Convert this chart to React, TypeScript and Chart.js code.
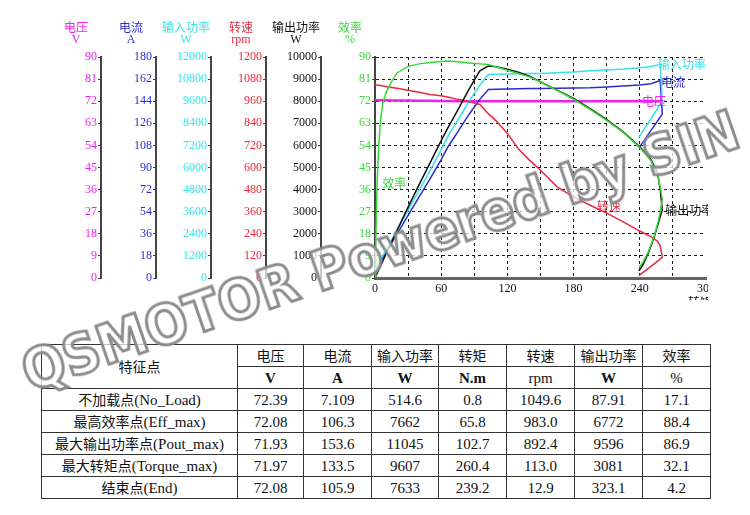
import React, { useEffect, useRef } from 'react';
import { Chart, registerables } from 'chart.js';

Chart.register(...registerables);

// operating points along the test run (torque rises to max, then falls back to the end point)
const torque = [0, 0.8, 2, 3.5, 5, 7, 10, 15, 20, 30, 40, 50, 60, 65.8, 75, 85, 95, 102.7, 110, 120, 130, 140, 150, 165, 180, 195, 210, 225, 240, 250, 256, 258.5, 260.4, 257, 253, 248, 243, 239.2];
const voltage = [72.4, 72.39, 72.38, 72.38, 72.37, 72.36, 72.35, 72.32, 72.3, 72.25, 72.2, 72.15, 72.1, 72.08, 72.03, 71.98, 71.95, 71.93, 71.93, 71.93, 71.94, 71.94, 71.94, 71.95, 71.95, 71.95, 71.96, 71.96, 71.96, 71.96, 71.96, 71.96, 71.97, 71.99, 72.01, 72.04, 72.06, 72.08];
const current = [0, 7.109, 9.5, 11.5, 13.5, 16.5, 21, 28.5, 36, 51, 66, 81, 96.5, 106.3, 119, 133, 145.5, 153.6, 153.8, 154, 154.2, 154.3, 154.4, 154.5, 154.7, 154.9, 155.5, 156.3, 157.2, 158.2, 160, 160.8, 133.5, 129.1, 123.9, 117.4, 110.9, 105.9];
const inputPower = [0, 514.6, 688, 832, 977, 1194, 1519, 2061, 2603, 3685, 4765, 5844, 6958, 7662, 8572, 9573, 10469, 11045, 11063, 11080, 11095, 11105, 11110, 11140, 11180, 11260, 11300, 11350, 11420, 11490, 11560, 11600, 9607, 9290, 8918, 8452, 7987, 7633];
const speed = [1052, 1049.6, 1048, 1046.5, 1045, 1043, 1040, 1035, 1030, 1020, 1009, 997, 989, 983, 970, 958, 942, 892.4, 852, 785, 700, 640, 585, 495, 440, 395, 352, 305, 255, 225, 200, 175, 113, 96, 77, 54, 31, 12.9];
const outputPower = [0, 87.91, 219, 383, 547, 765, 1089, 1626, 2157, 3204, 4226, 5220, 6214, 6772, 7600, 8527, 9370, 9596, 9555, 9444, 9310, 9130, 8877, 8500, 8122, 7666, 7166, 6611, 5933, 5366, 4777, 4000, 3081, 2520, 1850, 1170, 610, 323.1];
const efficiency = [0, 17.1, 40, 55, 64, 71, 75.5, 80, 83.5, 86.2, 87.2, 87.8, 88.2, 88.4, 88.1, 87.6, 87.2, 86.9, 85.9, 84.6, 83.3, 81.9, 79.7, 76.4, 72.8, 68.7, 64.2, 59.3, 53.1, 47.8, 42.2, 37, 32.1, 23.5, 17, 11, 6.5, 4.2];

// axis ranges (min 0)
const voltageMax = 90;
const currentMax = 180;
const inputMax = 12000;
const speedMax = 1200;
const outputMax = 10000;
const effMax = 90;
const torqueMax = 300;

// table
const headNames = ['电压', '电流', '输入功率', '转矩', '转速', '输出功率', '效率'];
const headUnits = ['V', 'A', 'W', 'N.m', 'rpm', 'W', '%'];
const rowNameZh = ['不加载点', '最高效率点', '最大输出功率点', '最大转矩点', '结束点'];
const rowNameEn = ['(No_Load)', '(Eff_max)', '(Pout_max)', '(Torque_max)', '(End)'];
const rowVoltage = ['72.39', '72.08', '71.93', '71.97', '72.08'];
const rowCurrent = ['7.109', '106.3', '153.6', '133.5', '105.9'];
const rowInput = ['514.6', '7662', '11045', '9607', '7633'];
const rowTorque = ['0.8', '65.8', '102.7', '260.4', '239.2'];
const rowSpeed = ['1049.6', '983.0', '892.4', '113.0', '12.9'];
const rowOutput = ['87.91', '6772', '9596', '3081', '323.1'];
const rowEff = ['17.1', '88.4', '86.9', '32.1', '4.2'];

const MAGENTA = '#ee22ee';
const BLUE = '#2b2bd2';
const CYAN = '#33e3ea';
const RED = '#e8293f';
const BLACK = '#111111';
const GREEN = '#35d935';

const SERIF = "'Liberation Serif', 'Noto Sans CJK SC', serif";
const CJK = "'Noto Sans CJK SC', sans-serif";

const axisTitles = [
  { id: 'yV', name: '电压', unit: 'V', color: MAGENTA },
  { id: 'yI', name: '电流', unit: 'A', color: BLUE },
  { id: 'yPin', name: '输入功率', unit: 'W', color: CYAN },
  { id: 'yN', name: '转速', unit: 'rpm', color: RED },
  { id: 'yPout', name: '输出功率', unit: 'W', color: BLACK },
  { id: 'yE', name: '效率', unit: '%', color: GREEN },
];

const curveLabels = [
  { text: '输入功率', axis: 'yPin', x: 256.6, y: 11600, color: CYAN },
  { text: '电流', axis: 'yI', x: 259.2, y: 158.9, color: BLUE },
  { text: '电压', axis: 'yV', x: 242, y: 72, color: MAGENTA },
  { text: '转速', axis: 'yN', x: 201, y: 387, color: RED },
  { text: '输出功率', axis: 'yPout', x: 263, y: 3078, color: BLACK },
  { text: '效率', axis: 'yE', x: 6.5, y: 38.7, color: GREEN },
];

const pts = (vals: number[]) => torque.map((t, i) => ({ x: t, y: vals[i] }));

const yAxis = (max: number, color: string, weight: number, width: number, grid: boolean) => ({
  type: 'linear' as const,
  position: 'left' as const,
  min: 0,
  max,
  weight,
  ticks: {
    stepSize: max / 10,
    color,
    font: { size: 12, family: SERIF },
    padding: 1,
    autoSkip: false,
    callback: (v: any) => String(v),
  },
  grid: {
    drawOnChartArea: grid,
    drawTicks: true,
    tickLength: 3,
    color: grid ? '#1a1a1a' : 'rgba(0,0,0,0)',
    tickColor: '#444',
    lineWidth: 1,
  },
  border: { display: true, color: '#444', width: 2, dash: grid ? [3, 3] : undefined },
  afterFit: (s: any) => {
    s.width = width;
  },
});

const textPlugin = {
  id: 'texts',
  afterDraw(chart: any) {
    const ctx = chart.ctx;
    ctx.save();
    ctx.textBaseline = 'middle';
    axisTitles.forEach((t) => {
      const s = chart.scales[t.id];
      const cx = s.right - 25;
      ctx.fillStyle = t.color;
      ctx.textAlign = 'center';
      ctx.font = '12px ' + CJK;
      ctx.fillText(t.name, cx, 27);
      ctx.font = '12px ' + SERIF;
      ctx.fillText(t.unit, cx, 40);
    });
    ctx.font = '12px ' + CJK;
    ctx.textAlign = 'left';
    curveLabels.forEach((l) => {
      const x = chart.scales.x.getPixelForValue(l.x);
      const y = chart.scales[l.axis].getPixelForValue(l.y);
      ctx.fillStyle = l.color;
      ctx.fillText(l.text, x, y);
    });
    ctx.fillStyle = '#111';
    ctx.fillText('转矩(N.m)', 688, 302);
    ctx.restore();
  },
};

const MotorChart: React.FC = () => {
  const canvasRef = useRef<HTMLCanvasElement>(null);
  const chartRef = useRef<Chart | null>(null);

  useEffect(() => {
    if (!canvasRef.current) return;
    const line = (label: string, data: number[], color: string, yAxisID: string, width = 1.5) => ({
      label,
      data: pts(data),
      yAxisID,
      borderColor: color,
      backgroundColor: color,
      borderWidth: width,
      pointRadius: 0,
      showLine: true,
      tension: 0,
      fill: false,
    });
    chartRef.current = new Chart(canvasRef.current, {
      type: 'scatter',
      data: {
        datasets: [
          line('效率', efficiency, GREEN, 'yE'),
          line('输出功率', outputPower, BLACK, 'yPout'),
          line('转速', speed, RED, 'yN'),
          line('输入功率', inputPower, CYAN, 'yPin'),
          line('电流', current, BLUE, 'yI'),
          line('电压', voltage, MAGENTA, 'yV', 2.5),
        ] as any,
      },
      options: {
        responsive: false,
        animation: false,
        layout: { padding: { left: 46, right: 44, top: 57, bottom: 0 } },
        plugins: { legend: { display: false }, tooltip: { enabled: false } },
        scales: {
          x: {
            type: 'linear',
            position: 'bottom',
            min: 0,
            max: torqueMax,
            ticks: {
              stepSize: 30,
              autoSkip: false,
              maxRotation: 0,
              color: '#111',
              font: { size: 12, family: SERIF },
              padding: 4,
              callback: (v: any) => (Number(v) % 60 === 0 ? String(v) : ''),
            },
            grid: {
              drawTicks: false,
              color: (c: any) => (c.tick && c.tick.value === torqueMax ? 'rgba(0,0,0,0)' : '#1a1a1a'),
              lineWidth: 1,
            },
            border: { color: '#666', width: 3, dash: [3, 3] },
            afterFit: (s: any) => {
              s.height = 32;
            },
          },
          yE: yAxis(effMax, GREEN, 0, 54, true),
          yPout: yAxis(outputMax, BLACK, 1, 55, false),
          yN: yAxis(speedMax, RED, 2, 55, false),
          yPin: yAxis(inputMax, CYAN, 3, 55, false),
          yI: yAxis(currentMax, BLUE, 4, 55, false),
          yV: yAxis(voltageMax, MAGENTA, 5, 55, false),
        } as any,
      },
      plugins: [textPlugin],
    });
    return () => {
      if (chartRef.current) {
        chartRef.current.destroy();
        chartRef.current = null;
      }
    };
  }, []);

  return (
    <div style={{ position: 'absolute', left: 0, top: 0, width: 708, height: 300, overflow: 'hidden' }}>
      <canvas ref={canvasRef} width={750} height={310} />
    </div>
  );
};

const cellBorder = '1px solid #333';

const DataTable: React.FC = () => {
  const td: React.CSSProperties = {
    border: cellBorder,
    padding: 0,
    height: 21,
    textAlign: 'center',
    verticalAlign: 'middle',
    fontSize: 15,
    lineHeight: '20px',
    whiteSpace: 'nowrap',
  };
  const zh: React.CSSProperties = { fontFamily: CJK, fontSize: 14 };
  const rows = rowNameZh.map((n, i) => [rowVoltage[i], rowCurrent[i], rowInput[i], rowTorque[i], rowSpeed[i], rowOutput[i], rowEff[i]]);
  const widths = [196, 66, 68, 67, 68, 68, 68, 68];
  return (
    <table
      style={{
        position: 'absolute',
        left: 41,
        top: 344,
        borderCollapse: 'collapse',
        border: '1.5px solid #222',
        fontFamily: SERIF,
        color: '#111',
        tableLayout: 'fixed',
        width: 669,
      }}
    >
      <colgroup>
        {widths.map((w, i) => (
          <col key={i} style={{ width: w }} />
        ))}
      </colgroup>
      <tbody>
        <tr>
          <td rowSpan={2} style={td}>
            <span style={zh}>特征点</span>
          </td>
          {headNames.map((h, i) => (
            <td key={i} style={td}>
              <span style={zh}>{h}</span>
            </td>
          ))}
        </tr>
        <tr>
          {headUnits.map((u, i) => (
            <td key={i} style={{ ...td, fontWeight: u === 'rpm' || u === '%' ? 400 : 700 }}>
              {u}
            </td>
          ))}
        </tr>
        {rows.map((r, i) => (
          <tr key={i}>
            <td style={td}>
              <span style={zh}>{rowNameZh[i]}</span>
              {rowNameEn[i]}
            </td>
            {r.map((v, j) => (
              <td key={j} style={td}>
                {v}
              </td>
            ))}
          </tr>
        ))}
      </tbody>
    </table>
  );
};

const Watermark: React.FC = () => (
  <div
    style={{
      position: 'absolute',
      left: 380,
      top: 250,
      transform: 'translate(-50%, -50%) rotate(-19deg)',
      whiteSpace: 'nowrap',
      fontFamily: "'DejaVu Sans Condensed', 'DejaVu Sans', sans-serif",
      fontStretch: 'condensed',
      fontWeight: 700,
      fontSize: 56,
      color: 'rgba(255,255,255,0.72)',
      WebkitTextStroke: '3px rgba(135,135,135,0.95)',
      pointerEvents: 'none',
      zIndex: 5,
    }}
  >
    QSMOTOR Powered by SIN
  </div>
);

const App: React.FC = () => (
  <div style={{ position: 'absolute', left: 0, top: 0, width: 750, height: 515, background: '#fff', overflow: 'hidden' }}>
    <MotorChart />
    <DataTable />
    <Watermark />
  </div>
);

export default App;
